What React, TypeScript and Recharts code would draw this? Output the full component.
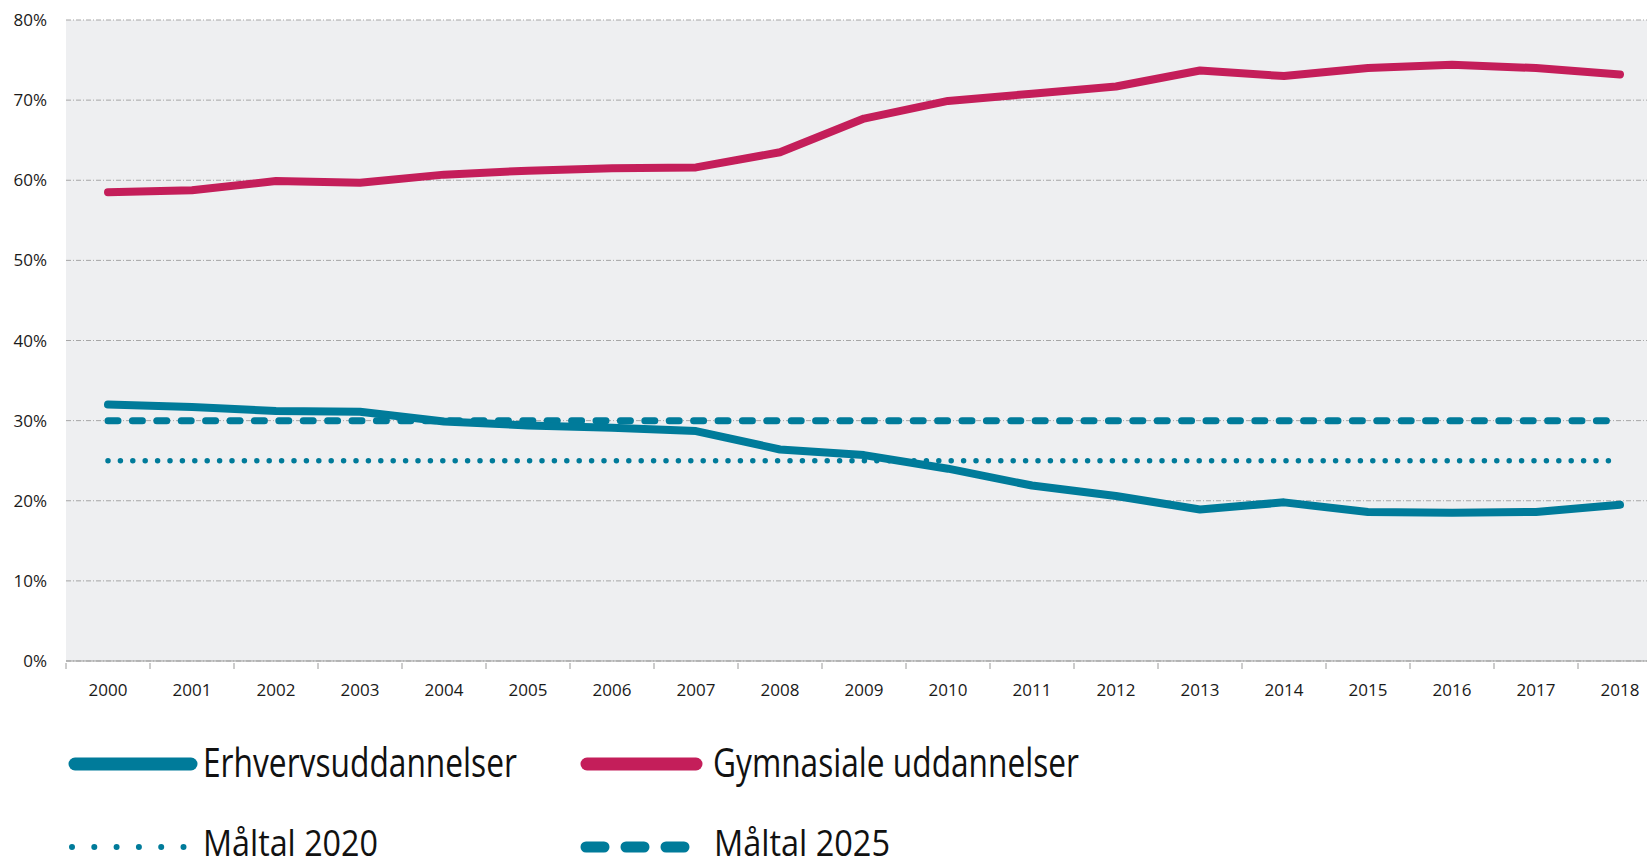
import React from 'react';
import { LineChart, Line, XAxis, YAxis, CartesianGrid } from 'recharts';

const years = ['2000', '2001', '2002', '2003', '2004', '2005', '2006', '2007', '2008', '2009', '2010', '2011', '2012', '2013', '2014', '2015', '2016', '2017', '2018'];
const erhverv = [32.0, 31.7, 31.2, 31.1, 29.9, 29.4, 29.1, 28.7, 26.4, 25.7, 24.0, 21.9, 20.6, 18.9, 19.8, 18.6, 18.5, 18.6, 19.5];
const gymnasiale = [58.5, 58.75, 59.9, 59.7, 60.7, 61.2, 61.5, 61.6, 63.5, 67.7, 69.9, 70.8, 71.7, 73.7, 73.0, 74.0, 74.4, 74.0, 73.2];
const target2020 = 25;
const target2025 = 30;
const yTicks = [0, 10, 20, 30, 40, 50, 60, 70, 80];

const seriesNames = ['Erhvervsuddannelser', 'Gymnasiale uddannelser', 'Måltal 2020', 'Måltal 2025'];

const TEAL = '#007B9A';
const CRIMSON = '#C41E5A';

const data = years.map((year, i) => ({
  year,
  erhverv: erhverv[i],
  gymnasiale: gymnasiale[i],
  maal2020: target2020,
  maal2025: target2025,
}));

const CHART_W = 1662;
const CHART_H = 700;
const Y_AXIS_W = 66;
const PAD = 42;
const STEP = (CHART_W - Y_AXIS_W - 2 * PAD) / (years.length - 1);

const XTick = (props: any) => {
  const { x, y, payload } = props;
  const bx = x - STEP / 2;
  return (
    <g>
      <line x1={bx} x2={bx} y1={y} y2={y + 6} stroke="#9a9a9a" strokeWidth={1} />
      <text x={x} y={y + 33} textAnchor="middle" fill="#1a1a1a" fontSize={17} fontFamily="'Open Sans', sans-serif">
        {payload.value}
      </text>
    </g>
  );
};

// legend drawn below the chart
const LegendBlock = () => (
  <svg width={1647} height={147} style={{ position: 'absolute', left: 0, top: 720 }}>
    <g fontFamily="'Open Sans', sans-serif" fontSize={40} fill="#111">
      <line x1={75} x2={191} y1={44} y2={44} stroke={TEAL} strokeWidth={13} strokeLinecap="round" />
      <text x={203} y={57} textLength={314} lengthAdjust="spacingAndGlyphs">{seriesNames[0]}</text>
      <line x1={587} x2={696} y1={44} y2={44} stroke={CRIMSON} strokeWidth={13} strokeLinecap="round" />
      <text x={713} y={57} textLength={366} lengthAdjust="spacingAndGlyphs">{seriesNames[1]}</text>
      <line x1={72} x2={184} y1={127} y2={127} stroke={TEAL} strokeWidth={6} strokeLinecap="round" strokeDasharray="0 22.3" />
      <text x={203} y={136} fontSize={37} textLength={175} lengthAdjust="spacingAndGlyphs">{seriesNames[2]}</text>
      <line x1={586} x2={692} y1={127} y2={127} stroke={TEAL} strokeWidth={11} strokeLinecap="round" strokeDasharray="18 22" />
      <text x={714} y={136} fontSize={37} textLength={176} lengthAdjust="spacingAndGlyphs">{seriesNames[3]}</text>
    </g>
  </svg>
);

export default function App() {
  return (
    <div style={{ position: 'absolute', left: 0, top: 0, width: 1647, height: 867, overflow: 'hidden', background: '#fff' }}>
      <LineChart width={CHART_W} height={CHART_H} data={data} margin={{ top: 20, right: 0, left: 0, bottom: 0 }}>
        <CartesianGrid vertical={false} fill="#EEEFF1" stroke="#a6a6a6" strokeDasharray="5 2 1 2" />
        <XAxis
          dataKey="year"
          height={39}
          padding={{ left: PAD, right: PAD }}
          axisLine={{ stroke: '#9a9a9a' }}
          tickLine={false}
          tickSize={0}
          tick={<XTick />}
          interval={0}
        />
        <YAxis
          width={Y_AXIS_W}
          domain={[0, 80]}
          ticks={yTicks}
          tickFormatter={(v: number) => `${v}%`}
          axisLine={false}
          tickLine={false}
          tickSize={0}
          tickMargin={19}
          tick={{ fill: '#1a1a1a', fontSize: 17, fontFamily: "'Open Sans', sans-serif" }}
        />
        <Line dataKey="maal2020" name={seriesNames[2]} stroke={TEAL} strokeWidth={5.5} strokeLinecap="round" strokeDasharray="0 12.4" dot={false} isAnimationActive={false} />
        <Line dataKey="maal2025" name={seriesNames[3]} stroke={TEAL} strokeWidth={7} strokeLinecap="round" strokeDasharray="10 14.4" dot={false} isAnimationActive={false} />
        <Line dataKey="erhverv" name={seriesNames[0]} stroke={TEAL} strokeWidth={8} strokeLinecap="round" strokeLinejoin="round" dot={false} isAnimationActive={false} />
        <Line dataKey="gymnasiale" name={seriesNames[1]} stroke={CRIMSON} strokeWidth={8} strokeLinecap="round" strokeLinejoin="round" dot={false} isAnimationActive={false} />
      </LineChart>
      <LegendBlock />
    </div>
  );
}
